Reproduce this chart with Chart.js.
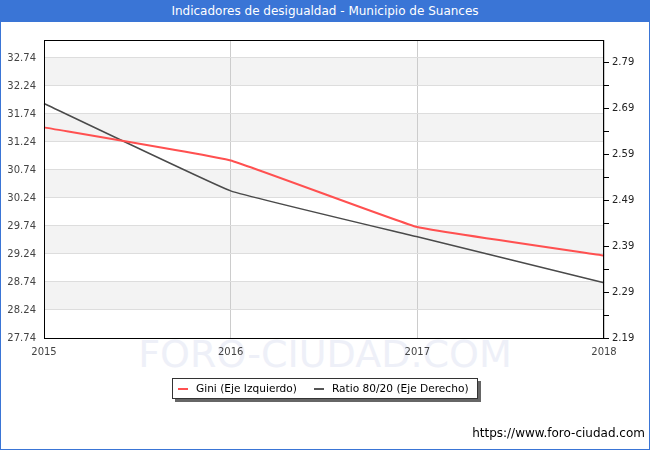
<!DOCTYPE html>
<html>
<head>
<meta charset="utf-8">
<script src="https://cdn.jsdelivr.net/npm/chart.js@4/dist/chart.umd.min.js"></script>
<style>
  html, body { margin:0; padding:0; background:#fff; }
  body { width:650px; height:450px; position:relative; overflow:hidden; font-family:"DejaVu Sans", Verdana, sans-serif; }
  #frame { position:absolute; left:0; top:0; width:648px; height:448px; border:1px solid #3a75d6; }
  #title { position:absolute; left:0; top:0; width:650px; height:22px; background:#3a75d6; color:#fff;
           font-size:12px; line-height:22px; text-align:center; }
  #wm { position:absolute; left:0; top:332px; width:650px; text-align:center; font-size:38px; color:#eef0f8; }
  #chartBox { position:absolute; left:0; top:0; width:650px; height:450px; }
  #legend { position:absolute; left:172px; top:378px; width:304px; height:19px; border:1px solid #333;
            background:#fff; box-shadow:3px 3px 0 #666; font-size:10.6px; line-height:19px; color:#000;
            white-space:nowrap; }
  #legend span.k { display:inline-block; width:10px; height:2px; vertical-align:middle; margin:0 8px 0 5px; }
  #footer { position:absolute; right:5px; top:426px; font-size:12px; color:#000; }
</style>
</head>
<body>
<div id="wm">FORO-CIUDAD.COM</div>
<div id="chartBox"><canvas id="chart" width="650" height="450"></canvas></div>
<div id="title">Indicadores de desigualdad - Municipio de Suances</div>
<div id="legend">
  <span class="k" style="background:#ff5050"></span>Gini (Eje Izquierdo)<span class="k" style="background:#555;margin-left:17px"></span>Ratio 80/20 (Eje Derecho)
</div>
<div id="footer">https://www.foro-ciudad.com</div>
<div id="frame"></div>
<script>
// data
const years = ['2015', '2016', '2017', '2018'];
const gini = [31.50, 30.91, 29.72, 29.21];
const ratio = [2.70, 2.51, 2.41, 2.31];

// tick values
const leftTicks = [27.74, 28.24, 28.74, 29.24, 29.74, 30.24, 30.74, 31.24, 31.74, 32.24, 32.74];
const rightTicks = [2.19, 2.24, 2.29, 2.34, 2.39, 2.44, 2.49, 2.54, 2.59, 2.64, 2.69, 2.74, 2.79];
const rightLabels = ['2.19', '', '2.29', '', '2.39', '', '2.49', '', '2.59', '', '2.69', '', '2.79'];

// alternating grey bands + black plot border
const bandsPlugin = {
  id: 'bands',
  beforeDraw(chart) {
    const { ctx, chartArea: a, scales } = chart;
    const y = scales.y;
    ctx.save();
    ctx.fillStyle = '#f3f3f3';
    for (let i = 2; i < leftTicks.length; i += 2) {
      const top = y.getPixelForValue(leftTicks[i]);
      const bot = y.getPixelForValue(leftTicks[i - 1]);
      ctx.fillRect(a.left, top, a.right - a.left, bot - top);
    }
    ctx.restore();
  },
  afterDatasetsDraw(chart) {
    const { ctx, chartArea: a } = chart;
    ctx.save();
    ctx.strokeStyle = '#000';
    ctx.lineWidth = 1;
    ctx.strokeRect(a.left + 0.5, a.top + 0.5, a.right - a.left - 1, a.bottom - a.top);
    ctx.restore();
  }
};

Chart.defaults.font.family = '"DejaVu Sans", Verdana, sans-serif';
Chart.defaults.font.size = 10;
Chart.defaults.color = '#444';

new Chart(document.getElementById('chart'), {
  type: 'line',
  data: {
    labels: years,
    datasets: [
      { label: 'Gini (Eje Izquierdo)', data: gini, yAxisID: 'y', borderColor: '#ff5050',
        borderWidth: 2, pointRadius: 0, tension: 0.08, fill: false },
      { label: 'Ratio 80/20 (Eje Derecho)', data: ratio, yAxisID: 'y1', borderColor: '#4a4a4a',
        borderWidth: 1.5, pointRadius: 0, tension: 0.08, fill: false }
    ]
  },
  options: {
    responsive: false,
    animation: false,
    layout: { padding: { top: 40, left: 0, right: 0, bottom: 92 } },
    plugins: { legend: { display: false }, tooltip: { enabled: false } },
    scales: {
      x: {
        offset: false,
        grid: { color: '#cccccc', drawTicks: false },
        border: { display: false },
        ticks: { padding: 8, maxRotation: 0 },
        afterFit(s) { s.height = 20; }
      },
      y: {
        position: 'left',
        min: 27.74,
        max: 33.06,
        afterBuildTicks(s) { s.ticks = leftTicks.map(v => ({ value: v })); },
        ticks: { padding: 8, callback: v => v.toFixed(2) },
        grid: { color: '#dddddd', drawTicks: false },
        border: { display: false },
        afterFit(s) { s.width = 44; }
      },
      y1: {
        position: 'right',
        min: 2.19,
        max: 2.838,
        afterBuildTicks(s) { s.ticks = rightTicks.map(v => ({ value: v })); },
        ticks: { padding: 3, color: '#222', callback: (v, i) => rightLabels[i] },
        grid: { drawOnChartArea: false, color: '#000', tickLength: 5 },
        border: { display: false },
        afterFit(s) { s.width = 46; }
      }
    }
  },
  plugins: [bandsPlugin]
});
</script>
</body>
</html>
